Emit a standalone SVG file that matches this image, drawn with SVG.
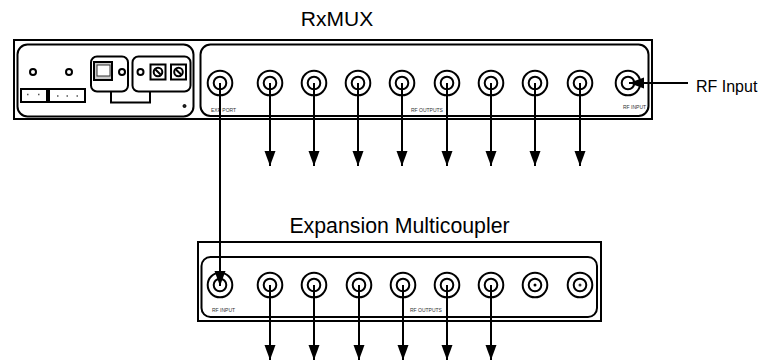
<svg xmlns="http://www.w3.org/2000/svg" xmlns:xlink="http://www.w3.org/1999/xlink" width="758" height="362" viewBox="0 0 758 362">
<style>
text{font-family:"Liberation Sans",Arial,sans-serif;fill:#000}
.t{font-size:21px}.t2{font-size:21.300px}.l{font-size:16px}.s{font-size:5px;fill:#333}
.b{fill:none;stroke:#000;stroke-width:2}
.c{fill:#fff;stroke:#000;stroke-width:2}
.w{stroke:#000;stroke-width:2;fill:none}
.a{stroke:#000;stroke-width:2;fill:none;marker-end:url(#h)}
.k{fill:#fff;stroke:#000;stroke-width:2}
</style>
<defs>
<marker id="h" markerUnits="userSpaceOnUse" markerWidth="16" markerHeight="12" refX="15" refY="5.500" orient="auto"><path d="M0 0L15 5.500L0 11Z" fill="#000"/></marker>
<g id="bnc"><circle r="12.300" class="c"/><circle r="6.300" class="c"/></g>
<g id="scr"><rect x="-7.500" y="-7.500" width="15" height="15" class="k"/><circle r="4.300" class="k"/><path d="M-2.800-2.800L2.800 2.800" class="w"/></g>
</defs>
<text x="337" y="26" class="t" text-anchor="middle">RxMUX</text>
<text x="399.500" y="233" class="t2" text-anchor="middle">Expansion Multicoupler</text>
<text x="696" y="92" class="l">RF Input</text>
<g id="rxmux">
<rect x="14" y="40" width="638" height="79" class="b"/>
<g id="control-panel">
<rect x="17.500" y="44.500" width="176" height="72" rx="10" class="b"/>
<circle cx="33" cy="72" r="3" class="c"/><circle cx="69" cy="72" r="3" class="c"/>
<rect x="21" y="89" width="26" height="13" class="k"/><rect x="49" y="89" width="36" height="13" class="k"/>
<path d="M27 94.500h1.500M38 94.500h1.500M57 96h1.500M66.500 96h1.500M76.500 96h1.500" stroke="#555" stroke-width="1.300"/>
<path d="M111 92v10.500h39v-10.500" class="w"/>
<rect x="91" y="56.500" width="37" height="35" rx="6" class="k"/>
<rect x="132.500" y="56.500" width="58" height="35" rx="6" class="k"/>
<rect x="94" y="62" width="18" height="18" fill="#ccc" stroke="#000" stroke-width="2"/>
<rect x="97" y="65" width="13" height="11" fill="#fff" stroke="#333" stroke-width="1"/>
<circle cx="122" cy="72" r="3" class="c"/><circle cx="140.500" cy="72" r="3" class="c"/>
<use xlink:href="#scr" x="158" y="72"/><use xlink:href="#scr" x="178.500" y="72"/>
<circle cx="184.500" cy="106" r="1.500" fill="#222" stroke="#000"/>
</g>
<g id="rf-panel">
<rect x="200.500" y="44.500" width="448" height="71.500" rx="10" class="b"/>
<use xlink:href="#bnc" x="220" y="83"/><use xlink:href="#bnc" x="270" y="83"/><use xlink:href="#bnc" x="314" y="83"/><use xlink:href="#bnc" x="358" y="83"/><use xlink:href="#bnc" x="402" y="83"/><use xlink:href="#bnc" x="447" y="83"/><use xlink:href="#bnc" x="491" y="83"/><use xlink:href="#bnc" x="535" y="83"/><use xlink:href="#bnc" x="580" y="83"/><use xlink:href="#bnc" x="628" y="83"/>
<text x="211" y="112" class="s">EXP PORT</text>
<text x="411" y="112" class="s">RF OUTPUTS</text>
<text x="623" y="109" class="s">RF INPUT</text>
</g>
</g>
<g id="expansion-multicoupler">
<rect x="198" y="242" width="403" height="79" class="b"/>
<rect x="201.500" y="257" width="395.500" height="60" rx="9" class="b"/>
<use xlink:href="#bnc" x="220" y="285"/><use xlink:href="#bnc" x="270" y="285"/><use xlink:href="#bnc" x="314" y="285"/><use xlink:href="#bnc" x="359" y="285"/><use xlink:href="#bnc" x="403" y="285"/><use xlink:href="#bnc" x="447" y="285"/><use xlink:href="#bnc" x="491" y="285"/><use xlink:href="#bnc" x="535" y="285"/><use xlink:href="#bnc" x="580" y="285"/>
<circle cx="535" cy="285" r="1.500" fill="#000"/><circle cx="580" cy="285" r="1.500" fill="#333"/>
<text x="212" y="312" class="s">RF INPUT</text>
<text x="410" y="312" class="s">RF OUTPUTS</text>
</g>
<g id="connectors">
<path class="a" d="M220 83V286"/>
<path class="a" d="M270 83V166"/><path class="a" d="M314 83V166"/><path class="a" d="M358 83V166"/><path class="a" d="M402 83V166"/><path class="a" d="M447 83V166"/><path class="a" d="M491 83V166"/><path class="a" d="M535 83V166"/><path class="a" d="M580 83V166"/>
<path class="a" d="M688 83H629"/>
<path class="a" d="M270 285V360"/><path class="a" d="M314 285V360"/><path class="a" d="M359 285V360"/><path class="a" d="M403 285V360"/><path class="a" d="M447 285V360"/><path class="a" d="M491 285V360"/>
</g>
</svg>
